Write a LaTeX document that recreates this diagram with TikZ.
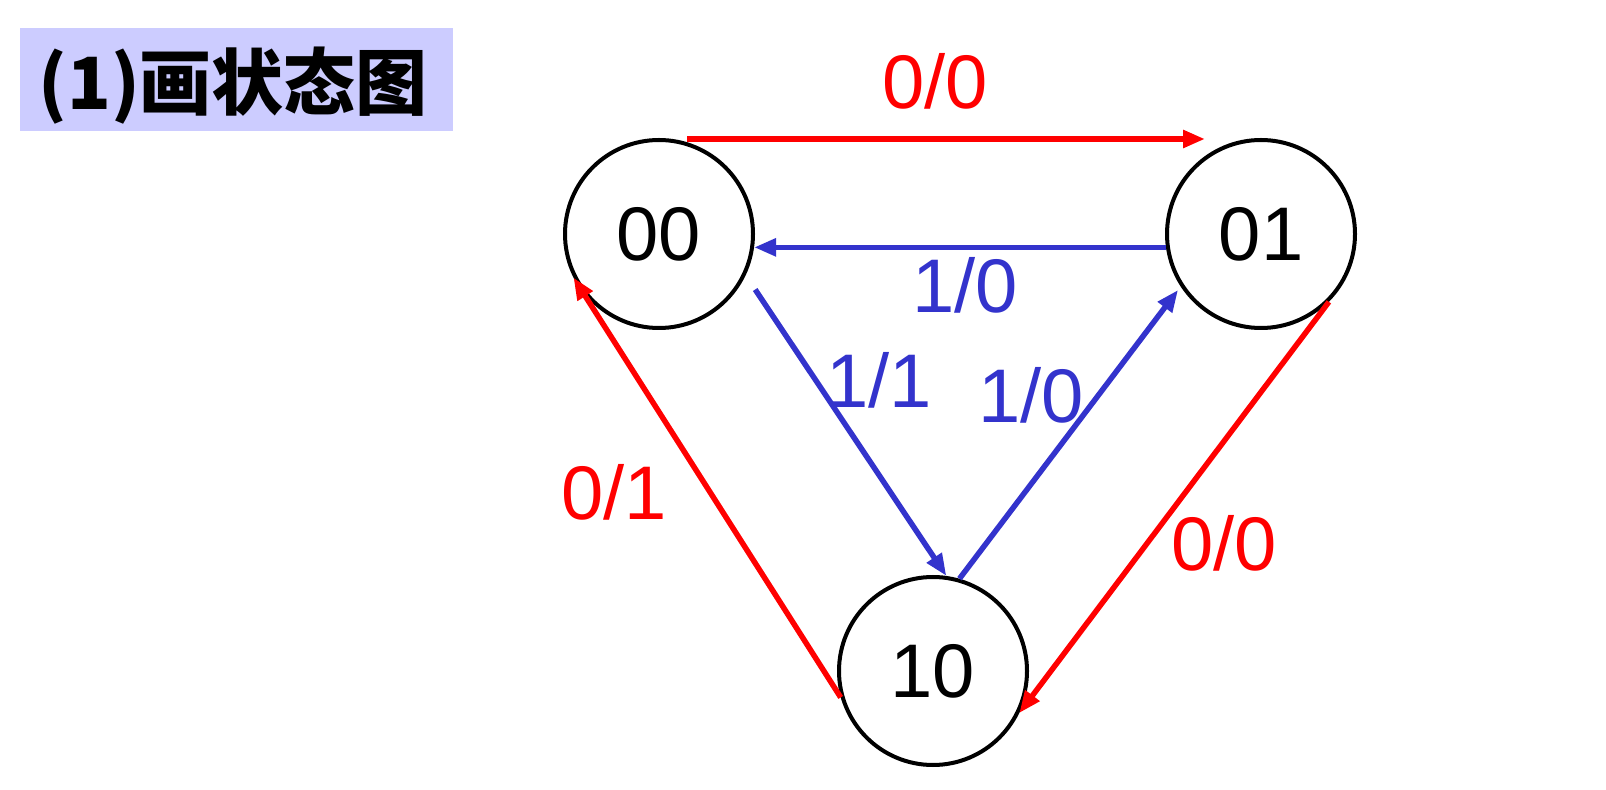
\documentclass[tikz,border=0pt]{standalone}
\usepackage{fontspec}
\setmainfont{Liberation Sans}
\newfontfamily\cjk{Noto Sans CJK SC}
\usepackage{tikz}
\usetikzlibrary{arrows.meta,positioning,calc}

\definecolor{edgeblue}{RGB}{51,51,204}
\definecolor{titlebg}{RGB}{204,204,255}

\begin{document}
\begin{tikzpicture}[
  x=0.5pt, y=-0.5pt,
  state/.style={circle, draw, line width=2pt, minimum size=94pt, inner sep=0pt, font=\fontsize{38}{42}\selectfont},
  lbl/.style={inner sep=0pt, font=\fontsize{38}{42}\selectfont},
  trans/.style={line width=2.75pt, -{Triangle[length=11pt,width=8.5pt]}},
  titlebox/.style={fill=titlebg, anchor=north west, minimum width=216.5pt, minimum height=51.5pt,
    text width=198.5pt, inner xsep=9pt, inner ysep=0pt, align=left, font=\cjk\bfseries\fontsize{36}{40}\selectfont}
]
\useasboundingbox (0,0) rectangle (1606,790);

% Title
\node[titlebox] (title) at (20,28) {\raisebox{-3pt}[\height][\depth]{(1)画状态图}};

% States
\node[state] (s00) at (659,234) {00};
\node[state] (s01) at (1261,234) {01};
\node[state] (s10) at (933,671) {10};

% Transitions
\draw[trans, red] ([xshift=14pt,yshift=-0.5pt]s00.north) -- ([xshift=-28pt,yshift=-0.5pt]s01.north);
\draw[trans, edgeblue] (s01.188) -- (s00.352);
\draw[trans, edgeblue] ([shift={(-30:7.5pt)}]s00.-30) -- (s10.82);
\draw[trans, edgeblue] (s10.74) -- ([shift={(214:2pt)}]s01.214);
\draw[trans, red] (s01.-45) -- (s10.-26);
\draw[trans, red] (s10.196) -- (s00.207);

% Labels
\node[lbl, red] (l0001) at (935,81) {0/0};
\node[lbl, edgeblue] (l0100) at (965,285) {1/0};
\node[lbl, edgeblue] (l0010) at (879,380) {1/1};
\node[lbl, edgeblue] (l1001) at (1031,395) {1/0};
\node[lbl, red] (l1000) at (614,492) {0/1};
\node[lbl, red] (l0110) at (1224,543) {0/0};

\end{tikzpicture}
\end{document}
